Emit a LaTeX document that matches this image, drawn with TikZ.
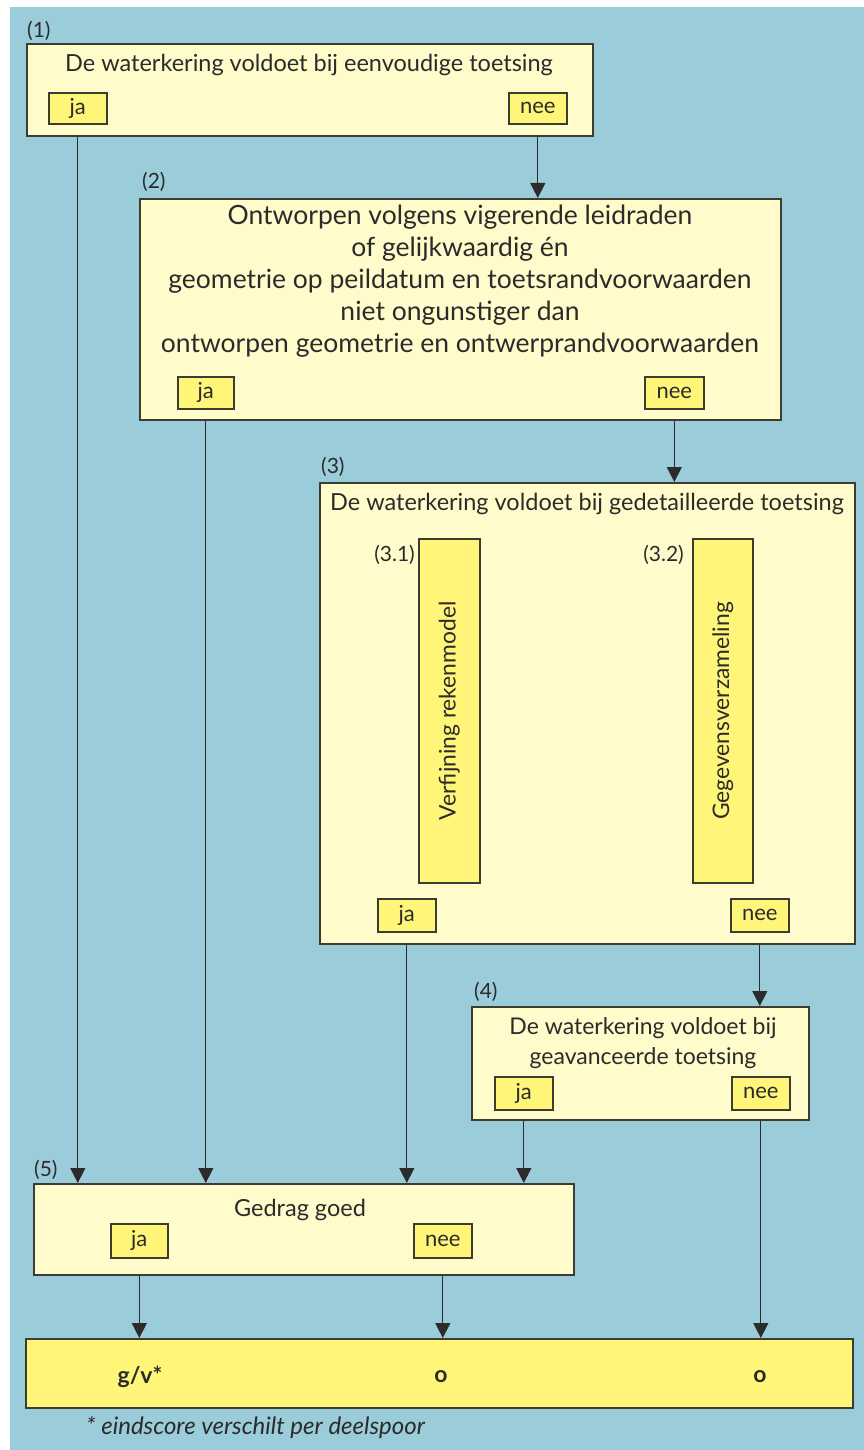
\documentclass[tikz,border=0pt]{standalone}
\usepackage{fontspec}
\setmainfont{Lato}
\usetikzlibrary{arrows.meta}
\definecolor{bgblue}{HTML}{9BCCDA}
\definecolor{pale}{HTML}{FFFBCB}
\definecolor{yel}{HTML}{FFF578}
\definecolor{edge}{HTML}{3C3C30}
\definecolor{ink}{HTML}{2B2B2B}
\begin{document}
\begin{tikzpicture}[x=1pt,y=-1pt,
  box/.style={draw=edge, fill=pale, line width=1.6pt, inner sep=0pt, anchor=north west},
  yb/.style={draw=edge, fill=yel, line width=1.6pt, inner sep=0pt, anchor=north west},
  txt/.style={text=ink, inner sep=0pt, font=\fontsize{23.5}{26}\selectfont},
  yn/.style={text=ink, inner sep=0pt, font=\fontsize{22}{24}\selectfont},
  big/.style={text=ink, inner sep=0pt, align=center, font=\fontsize{26.5}{32}\selectfont},
  num/.style={text=ink, inner sep=0pt, font=\fontsize{21}{24}\selectfont},
  arr/.style={draw=ink, line width=1.3pt, -{Triangle[width=15pt,length=15pt]}},
  ]
\useasboundingbox (0,0) rectangle (864,1450);
\fill[white] (0,0) rectangle (864,1450);
\fill[bgblue] (10,7) rectangle (864,1450);

% box 1
\node[box, minimum width=566pt, minimum height=92pt] (b1) at (26,43) {};
\node[yb, minimum width=58pt, minimum height=31pt] (ja1) at (48,92) {};
\node[yb, minimum width=58pt, minimum height=31pt] (nee1) at (508,92) {};
\node[txt] (t1) at (309,65) {De waterkering voldoet bij eenvoudige toetsing};
\node[yn] (tja1) at (ja1.center) {ja};
\node[yn] (tnee1) at (nee1.center) {nee};
\node[num, anchor=base west] (n1) at (27,38) {(1)};

% box 2
\node[box, minimum width=641pt, minimum height=221pt] (b2) at (139,198) {};
\node[yb, minimum width=56pt, minimum height=32pt] (ja2) at (177,376) {};
\node[yb, minimum width=59pt, minimum height=32pt] (nee2) at (644,376) {};
\node[big] (t2) at (460,281) {Ontworpen volgens vigerende leidraden\\of gelijkwaardig én\\geometrie op peildatum en toetsrandvoorwaarden\\niet ongunstiger dan\\ontworpen geometrie en ontwerprandvoorwaarden};
\node[yn] (tja2) at (ja2.center) {ja};
\node[yn] (tnee2) at (nee2.center) {nee};
\node[num, anchor=base west] (n2) at (142,189) {(2)};

% box 3
\node[box, minimum width=535pt, minimum height=461pt] (b3) at (319,482) {};
\node[yb, minimum width=61pt, minimum height=344pt] (bar1) at (418,538) {};
\node[yb, minimum width=60pt, minimum height=344pt] (bar2) at (692,538) {};
\node[yb, minimum width=58pt, minimum height=33pt] (ja3) at (377,898) {};
\node[yb, minimum width=58pt, minimum height=33pt] (nee3) at (730,898) {};
\node[txt] (t3) at (587,504) {De waterkering voldoet bij gedetailleerde toetsing};
\node[txt, rotate=90, font=\fontsize{22.8}{26}\selectfont] (tbar1) at (bar1.center) {Verfijning rekenmodel};
\node[txt, rotate=90, font=\fontsize{22.8}{26}\selectfont] (tbar2) at (bar2.center) {Gegevensverzameling};
\node[yn] (tja3) at (ja3.center) {ja};
\node[yn] (tnee3) at (nee3.center) {nee};
\node[num, anchor=base west] (n3) at (321,473) {(3)};
\node[num, anchor=base east] (n31) at (415,561) {(3.1)};
\node[num, anchor=base east] (n32) at (684,561) {(3.2)};

% box 4
\node[box, minimum width=337pt, minimum height=113pt] (b4) at (471,1006) {};
\node[yb, minimum width=58pt, minimum height=33pt] (ja4) at (494,1076) {};
\node[yb, minimum width=58pt, minimum height=33pt] (nee4) at (731,1076) {};
\node[txt, align=center, font=\fontsize{23}{30}\selectfont] (t4) at (643,1043) {De waterkering voldoet bij\\geavanceerde toetsing};
\node[yn] (tja4) at (ja4.center) {ja};
\node[yn] (tnee4) at (nee4.center) {nee};
\node[num, anchor=base west] (n4) at (474,998) {(4)};

% box 5
\node[box, minimum width=540pt, minimum height=91pt] (b5) at (33,1183) {};
\node[yb, minimum width=57pt, minimum height=34pt] (ja5) at (110,1223) {};
\node[yb, minimum width=58pt, minimum height=34pt] (nee5) at (413,1223) {};
\node[txt] (t5) at (300,1210) {Gedrag goed};
\node[yn] (tja5) at (ja5.center) {ja};
\node[yn] (tnee5) at (nee5.center) {nee};
\node[num, anchor=base west] (n5) at (34,1176) {(5)};

% bottom
\node[yb, minimum width=827pt, minimum height=69pt] (bot) at (25,1338) {};
\node[txt, font=\fontsize{23}{26}\selectfont\bfseries] (r1) at (140,1377) {g/v*};
\node[txt, font=\fontsize{23}{26}\selectfont\bfseries] (r2) at (441,1377) {o};
\node[txt, font=\fontsize{23}{26}\selectfont\bfseries] (r3) at (760,1377) {o};
\node[txt, anchor=west, font=\fontsize{24}{26}\selectfont\itshape] (fn) at (86,1428) {* eindscore verschilt per deelspoor};

% arrows
\draw[arr] (ja1 |- b1.south) -- (ja1 |- b5.north);
\draw[arr] (nee1 |- b1.south) -- (nee1 |- b2.north);
\draw[arr] (ja2 |- b2.south) -- (ja2 |- b5.north);
\draw[arr] (nee2 |- b2.south) -- (nee2 |- b3.north);
\draw[arr] (ja3 |- b3.south) -- (ja3 |- b5.north);
\draw[arr] (nee3 |- b3.south) -- (nee3 |- b4.north);
\draw[arr] (ja4 |- b4.south) -- (ja4 |- b5.north);
\draw[arr] (nee4 |- b4.south) -- (nee4 |- bot.north);
\draw[arr] (ja5 |- b5.south) -- (ja5 |- bot.north);
\draw[arr] (nee5 |- b5.south) -- (nee5 |- bot.north);
\end{tikzpicture}
\end{document}
